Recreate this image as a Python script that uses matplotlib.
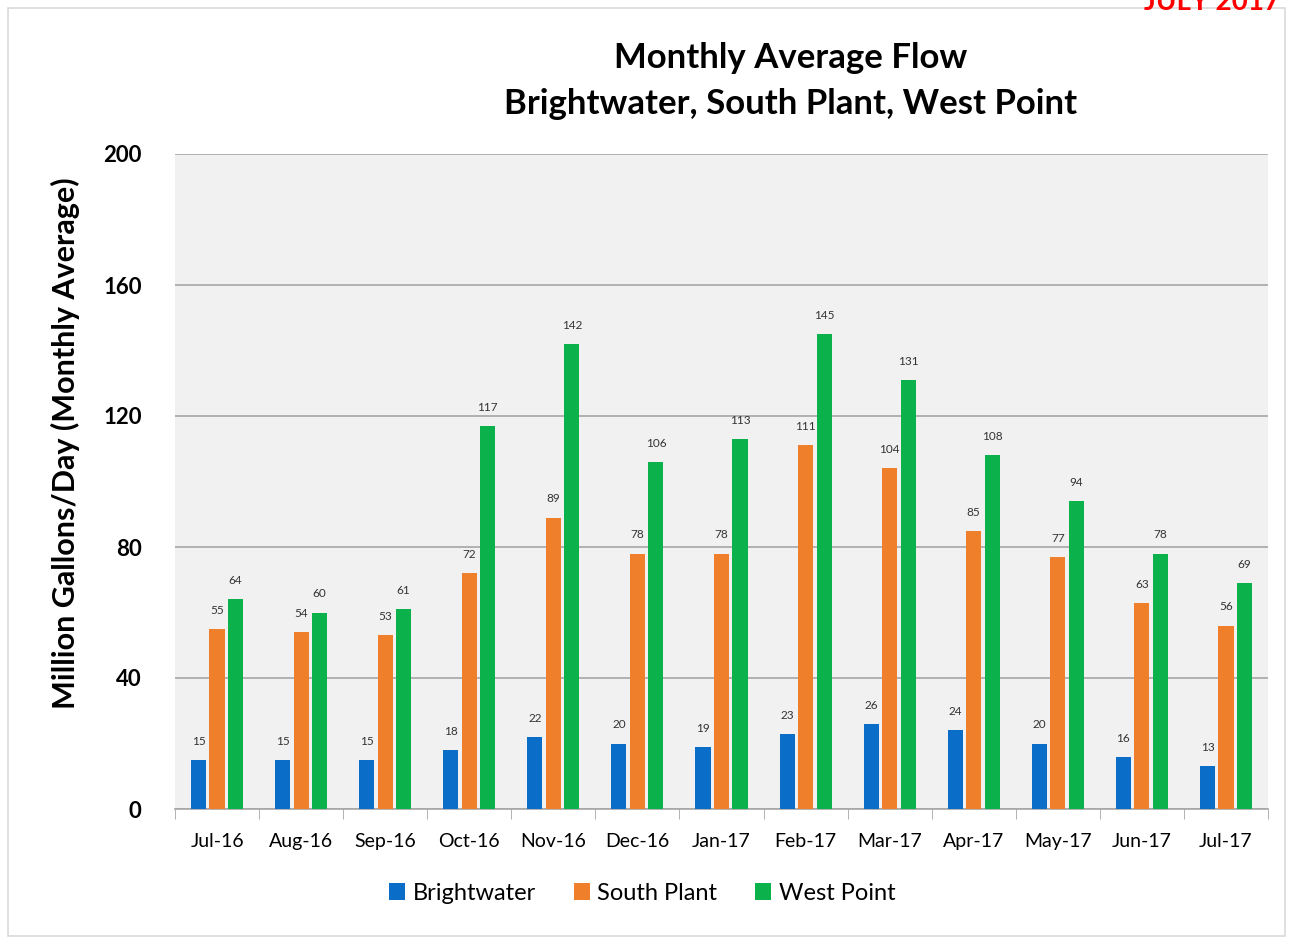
import matplotlib.pyplot as plt
import numpy as np

plt.rcParams['font.family'] = ['Lato', 'DejaVu Sans']

# dados
meses = ["Jul-16", "Aug-16", "Sep-16", "Oct-16", "Nov-16", "Dec-16", "Jan-17",
         "Feb-17", "Mar-17", "Apr-17", "May-17", "Jun-17", "Jul-17"]
brightwater = [15, 15, 15, 18, 22, 20, 19, 23, 26, 24, 20, 16, 13]
south_plant = [55, 54, 53, 72, 89, 78, 78, 111, 104, 85, 77, 63, 56]
west_point = [64, 60, 61, 117, 142, 106, 113, 145, 131, 108, 94, 78, 69]

series = [("Brightwater", brightwater, "#0a6ec8"),
          ("South Plant", south_plant, "#f07f2c"),
          ("West Point", west_point, "#0bb14a")]

fig = plt.figure(figsize=(12.95, 9.41), dpi=100)
ax = fig.add_axes([175/1295, 1-809/941, (1268-175)/1295, (809-154)/941])
ax.set_facecolor("#f1f1f1")

x = np.arange(len(meses))
largura = 0.18
desloc = [-0.22, 0.0, 0.22]
for (nome, vals, cor), d in zip(series, desloc):
    barras = ax.bar(x + d, vals, largura, color=cor, label=nome, zorder=3)
    for b, v in zip(barras, vals):
        ax.text(b.get_x() + b.get_width()/2, v + 4, str(v), ha="center", va="bottom",
                fontsize=8.5, color="#333333", zorder=4)

ax.set_xlim(-0.5, len(meses) - 0.5)
ax.set_ylim(0, 200)
ax.set_yticks([0, 40, 80, 120, 160, 200])
ax.yaxis.grid(True, color="#a6a6a6", linewidth=1.2, zorder=0)
ax.set_xticks(x)
ax.set_xticklabels(meses, fontsize=14)
ax.set_xticks(np.arange(-0.5, len(meses), 1), minor=True)
ax.tick_params(axis="x", which="major", length=0, pad=17)
ax.tick_params(axis="x", which="minor", length=7, color="#a6a6a6")
ax.tick_params(axis="y", length=0, pad=24, labelsize=16)
for lbl in ax.get_yticklabels():
    lbl.set_fontweight("bold")
for s in ["top", "right", "left"]:
    ax.spines[s].set_visible(False)
ax.spines["bottom"].set_color("#a6a6a6")
ax.spines["bottom"].set_linewidth(1.2)

fig.text(65/1295, 1-443/941, "Million Gallons/Day (Monthly Average)", rotation=90,
         ha="center", va="center", fontsize=22, fontweight="bold")

fig.text(791/1295, 1-58/941, "Monthly Average Flow", ha="center", va="center",
         fontsize=25, fontweight="bold")
fig.text(791/1295, 1-104/941, "Brightwater, South Plant, West Point", ha="center", va="center",
         fontsize=25, fontweight="bold")

ax.legend(loc="center", bbox_to_anchor=(642/1295, 1-893/941), bbox_transform=fig.transFigure,
          ncol=3, frameon=False, fontsize=17, handlelength=0.7, handleheight=0.7,
          handletextpad=0.3, columnspacing=1.6)

# moldura do gráfico e texto vermelho cortado no topo
fig.patches.append(plt.Rectangle((8/1295, 1-936/941), 1277/1295, 928/941, transform=fig.transFigure,
                                 fill=False, edgecolor="#d9d9d9", linewidth=1.2))
fig.text(1212/1295, 1-2/941, "JULY 2017", ha="center", va="center", fontsize=20,
         fontweight="bold", color="#ff0000")

fig.savefig("out.png", dpi=100)
